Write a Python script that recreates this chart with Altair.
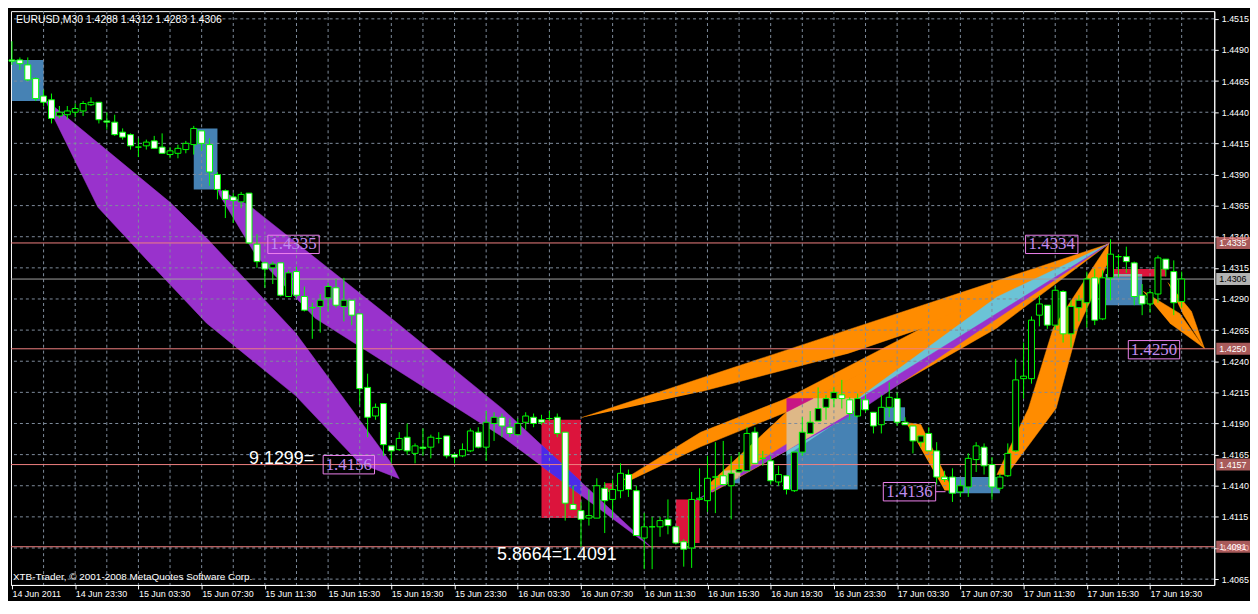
import altair as alt
import pandas as pd

W, H = 1212, 578

# ---------------- candle data: EURUSD M30, bar 0 = 14 Jun 2011 19:30 ----------------
opens = [1.4482,1.4482,1.4478,1.4467,1.4453,1.4450,1.4437,1.4438,1.4440,1.4441,
1.4446,1.4448,1.4433,1.4432,1.4424,1.4422,1.4412,1.4413,1.4417,1.4412,
1.4406,1.4407,1.4410,1.4414,1.4425,1.4414,1.4390,1.4377,1.4372,1.4368,
1.4375,1.4334,1.4319,1.4315,1.4319,1.4292,1.4312,1.4292,1.4283,1.4284,
1.4291,1.4299,1.4284,1.4289,1.4278,1.4219,1.4196,1.4206,1.4172,1.4169,
1.4179,1.4166,1.4171,1.4171,1.4178,1.4180,1.4165,1.4164,1.4168,1.4183,
1.4171,1.4190,1.4195,1.4187,1.4181,1.4191,1.4195,1.4193,1.4194,1.4195,
1.4183,1.4125,1.4120,1.4114,1.4114,1.4138,1.4129,1.4136,1.4149,1.4136,
1.4098,1.4107,1.4107,1.4113,1.4107,1.4095,1.4090,1.4129,1.4128,1.4147,
1.4148,1.4140,1.4151,1.4152,1.4183,1.4162,1.4160,1.4143,1.4148,1.4136,
1.4167,1.4182,1.4192,1.4203,1.4210,1.4213,1.4209,1.4196,1.4209,1.4199,
1.4189,1.4203,1.4210,1.4191,1.4188,1.4175,1.4182,1.4168,1.4147,1.4147,
1.4135,1.4139,1.4161,1.4171,1.4157,1.4138,1.4148,1.4168,1.4226,1.4226,
1.4277,1.4285,1.4269,1.4296,1.4262,1.4283,1.4287,1.4307,1.4274,1.4307,
1.4324,1.4324,1.4319,1.4293,1.4286,1.4294,1.4322,1.4312,1.4288]
highs = [1.4497,1.4484,1.4484,1.4468,1.4458,1.4455,1.4445,1.4445,1.4447,1.4449,
1.4452,1.4448,1.4440,1.4438,1.4427,1.4423,1.4419,1.4418,1.4421,1.4423,
1.4412,1.4414,1.4417,1.4429,1.4425,1.4419,1.4392,1.4378,1.4375,1.4376,
1.4375,1.4342,1.4320,1.4320,1.4319,1.4313,1.4316,1.4300,1.4287,1.4294,
1.4303,1.4306,1.4307,1.4289,1.4278,1.4230,1.4206,1.4206,1.4172,1.4183,
1.4190,1.4174,1.4186,1.4181,1.4183,1.4180,1.4166,1.4174,1.4186,1.4187,
1.4200,1.4199,1.4198,1.4194,1.4194,1.4199,1.4198,1.4197,1.4200,1.4198,
1.4183,1.4140,1.4127,1.4137,1.4146,1.4143,1.4145,1.4158,1.4153,1.4140,
1.4118,1.4115,1.4115,1.4129,1.4107,1.4097,1.4135,1.4154,1.4164,1.4175,
1.4176,1.4164,1.4167,1.4187,1.4187,1.4168,1.4164,1.4156,1.4148,1.4167,
1.4195,1.4200,1.4219,1.4213,1.4219,1.4225,1.4211,1.4214,1.4213,1.4199,
1.4213,1.4223,1.4215,1.4195,1.4188,1.4180,1.4187,1.4175,1.4152,1.4154,
1.4145,1.4166,1.4175,1.4174,1.4163,1.4150,1.4174,1.4242,1.4255,1.4276,
1.4293,1.4285,1.4300,1.4297,1.4289,1.4293,1.4312,1.4314,1.4313,1.4338,
1.4326,1.4332,1.4320,1.4302,1.4298,1.4325,1.4322,1.4321,1.4312]
lows = [1.4478,1.4474,1.4465,1.4449,1.4445,1.4431,1.4435,1.4434,1.4436,1.4437,
1.4445,1.4431,1.4426,1.4421,1.4418,1.4410,1.4404,1.4410,1.4411,1.4407,
1.4403,1.4403,1.4407,1.4406,1.4409,1.4381,1.4370,1.4355,1.4351,1.4363,
1.4334,1.4315,1.4299,1.4302,1.4292,1.4292,1.4291,1.4280,1.4258,1.4263,
1.4280,1.4283,1.4272,1.4269,1.4205,1.4179,1.4193,1.4164,1.4158,1.4168,
1.4165,1.4158,1.4164,1.4162,1.4174,1.4162,1.4158,1.4163,1.4167,1.4170,
1.4160,1.4176,1.4179,1.4179,1.4181,1.4185,1.4187,1.4189,1.4192,1.4179,
1.4112,1.4121,1.4091,1.4108,1.4114,1.4102,1.4114,1.4130,1.4131,1.4100,
1.4073,1.4073,1.4099,1.4101,1.4093,1.4075,1.4074,1.4128,1.4119,1.4118,
1.4141,1.4113,1.4151,1.4152,1.4158,1.4156,1.4141,1.4140,1.4133,1.4135,
1.4164,1.4182,1.4192,1.4193,1.4203,1.4202,1.4193,1.4195,1.4199,1.4182,
1.4182,1.4195,1.4188,1.4189,1.4166,1.4171,1.4168,1.4141,1.4143,1.4127,
1.4131,1.4131,1.4151,1.4149,1.4129,1.4136,1.4147,1.4167,1.4210,1.4222,
1.4268,1.4266,1.4265,1.4255,1.4251,1.4272,1.4267,1.4269,1.4273,1.4289,
1.4307,1.4311,1.4285,1.4277,1.4279,1.4287,1.4308,1.4277,1.4283]
closes = [1.4481,1.4479,1.4466,1.4451,1.4448,1.4435,1.4440,1.4441,1.4443,1.4447,
1.4448,1.4434,1.4432,1.4422,1.4420,1.4413,1.4412,1.4416,1.4411,1.4407,
1.4409,1.4411,1.4415,1.4427,1.4415,1.4392,1.4378,1.4370,1.4369,1.4374,
1.4335,1.4320,1.4314,1.4318,1.4293,1.4311,1.4293,1.4281,1.4283,1.4289,
1.4300,1.4285,1.4289,1.4277,1.4218,1.4195,1.4203,1.4173,1.4168,1.4178,
1.4168,1.4172,1.4170,1.4179,1.4178,1.4164,1.4163,1.4169,1.4184,1.4171,
1.4191,1.4195,1.4188,1.4182,1.4190,1.4196,1.4190,1.4191,1.4194,1.4182,
1.4126,1.4121,1.4113,1.4116,1.4140,1.4128,1.4137,1.4150,1.4137,1.4100,
1.4107,1.4107,1.4112,1.4108,1.4094,1.4089,1.4129,1.4130,1.4146,1.4147,
1.4141,1.4150,1.4153,1.4182,1.4158,1.4162,1.4144,1.4149,1.4137,1.4167,
1.4183,1.4191,1.4202,1.4210,1.4215,1.4210,1.4198,1.4210,1.4201,1.4188,
1.4203,1.4211,1.4191,1.4189,1.4176,1.4180,1.4168,1.4147,1.4145,1.4134,
1.4140,1.4162,1.4172,1.4156,1.4139,1.4147,1.4166,1.4225,1.4228,1.4273,
1.4286,1.4269,1.4297,1.4262,1.4284,1.4289,1.4306,1.4273,1.4307,1.4326,
1.4324,1.4320,1.4292,1.4286,1.4295,1.4323,1.4314,1.4287,1.4306]

# ---------------- axes ----------------
x_tick_bars = [0, 8, 16, 24, 32, 40, 48, 56, 64, 72, 80, 88, 96, 104, 112, 120, 128, 136, 144]
x_tick_labels = ["14 Jun 2011", "14 Jun 23:30", "15 Jun 03:30", "15 Jun 07:30", "15 Jun 11:30",
                 "15 Jun 15:30", "15 Jun 19:30", "15 Jun 23:30", "16 Jun 03:30", "16 Jun 07:30",
                 "16 Jun 11:30", "16 Jun 15:30", "16 Jun 19:30", "16 Jun 23:30", "17 Jun 03:30",
                 "17 Jun 07:30", "17 Jun 11:30", "17 Jun 15:30", "17 Jun 19:30"]
price_ticks = [1.4065, 1.4090, 1.4115, 1.4140, 1.4165, 1.4190, 1.4215, 1.4240, 1.4265, 1.4290,
               1.4315, 1.4340, 1.4365, 1.4390, 1.4415, 1.4440, 1.4465, 1.4490, 1.4515]
grid_bars = [4, 8, 12, 16, 20, 24, 28, 32, 36, 40, 44, 48, 52, 56, 60, 64, 68, 72, 76, 80, 84, 88,
             92, 96, 100, 104, 108, 112, 116, 120, 124, 128, 132, 136, 140, 144, 148]

# ---------------- levels and price tags ----------------
level_prices = [1.4335, 1.4250, 1.4157, 1.4091]
bid_price = 1.4306
tag_prices = [1.4335, 1.4306, 1.4250, 1.4157, 1.4091]
tag_text = ["1.4335", "1.4306", "1.4250", "1.4157", "1.4091"]
tag_bg = ["#F08080", "#FFFFFF", "#F08080", "#F08080", "#F08080"]
tag_fg = ["#FFFFFF", "#000000", "#FFFFFF", "#FFFFFF", "#FFFFFF"]

# ---------------- rectangles (bar0, bar1, price top, price bottom) ----------------
blue_rects = [(0, 4, 1.4482, 1.4449), (23, 26, 1.4427, 1.4378), (90, 92.1, 1.4153, 1.4142),
              (98, 107, 1.4210, 1.4137), (110, 113, 1.4203, 1.4192), (118.5, 125, 1.4147, 1.4134),
              (138.4, 143, 1.4310, 1.4285)]
red_rects = [(67, 72, 1.4193, 1.4114), (75, 76.1, 1.4142, 1.4135), (84, 87, 1.4129, 1.4094),
             (139.4, 146, 1.4314, 1.4308)]
gray_rects = [(138.4, 143, 1.4310, 1.4308)]

# ---------------- filled triangles / ribbons (bar, price) ----------------
P1 = [(4.0, 1.44514), (20.0, 1.43676), (24.625, 1.43389), (35.875, 1.42628), (48.0, 1.41581),
      (49.0, 1.41457), (44.0, 1.41581), (35.875, 1.42124), (24.625, 1.42706), (17.125, 1.43210),
      (10.875, 1.43637), (4.375, 1.44475)]
P2 = [(26.0, 1.43785), (30.0, 1.43653), (48.0, 1.42745), (62.125, 1.42015), (80.875, 1.40906),
      (62.125, 1.41790), (38.375, 1.42745), (30.875, 1.43249), (26.25, 1.43738)]
P3 = [(85.875, 1.41255), (138.75, 1.43342), (107.375, 1.42008)]
O1 = [(72.0, 1.41946), (138.75, 1.43342), (132.125, 1.43094), (119.625, 1.42760),
      (105.875, 1.42465), (87.125, 1.42155)]
O2 = [(77.375, 1.41449), (87.125, 1.41829), (98.0, 1.42101), (124.625, 1.42978), (138.75, 1.43342),
      (124.625, 1.42853), (98.0, 1.41992), (87.125, 1.41713), (78.375, 1.41449)]
O2b = [(87.75, 1.41387), (98.0, 1.41992), (138.75, 1.43342), (124.625, 1.42667), (107.125, 1.42031),
       (98.0, 1.41682), (88.625, 1.41348)]
O3 = [(124.625, 1.41488), (128.625, 1.42023), (131.75, 1.42667), (137.125, 1.43187), (138.75, 1.43342),
      (138.625, 1.43187), (134.875, 1.42667), (132.125, 1.42023), (125.875, 1.41488)]
O4 = [(113.125, 1.41907), (115.0, 1.41891), (119.0, 1.41364), (118.0, 1.41364)]
O5a = [(143.125, 1.42962), (147.75, 1.42784), (150.875, 1.42504), (146.5, 1.42706)]
O5b = [(146.25, 1.43032), (149.25, 1.42799), (150.875, 1.42504), (148.125, 1.42784)]
CY = [(98.0, 1.41682), (124.625, 1.42916), (138.75, 1.43342), (124.625, 1.42760), (98.0, 1.41643)]
BLUE_OV = [(67.0, 1.41728), (72.0, 1.41433), (72.0, 1.41325), (67.0, 1.41558)]
TAN1 = [(98.0, 1.41992), (101.25, 1.42101), (107.0, 1.42101), (107.0, 1.42023), (98.0, 1.41682)]
TAN2 = [(90.0, 1.41519), (92.125, 1.41526), (92.125, 1.41472), (90.0, 1.41418)]
MAG = [(98.0, 1.42101), (101.375, 1.42101), (98.0, 1.41992)]

# ---------------- annotation boxes ----------------
box_text = ["1.4335", "1.4334", "1.4250", "1.4156", "1.4136"]
box_b0 = [32.375, 128.25, 141.25, 39.375, 110.25]
box_b1 = [38.875, 134.875, 147.75, 45.875, 116.875]
box_top = [1.43412, 1.43412, 1.42566, 1.41643, 1.41426]
box_bot = [1.43265, 1.43265, 1.42419, 1.41495, 1.41278]
note_text = ["9.1299=", "5.8664=1.4091"]
note_bar = [30.0, 61.375]
note_price = [1.41612, 1.40844]
title_text = "EURUSD,M30  1.4288 1.4312 1.4283 1.4306"
copy_text = "XTB-Trader, \u00a9 2001-2008 MetaQuotes Software Corp."

# ---------------- encodings ----------------
xs = alt.Scale(domain=[-0.125, 152.125], nice=False, zero=False)
ys = alt.Scale(domain=[1.40603, 1.45212], nice=False, zero=False)
label_expr = "[" + ",".join("'%s'" % s for s in x_tick_labels) + "][round(datum.value / 8)]"
xaxis = alt.Axis(values=x_tick_bars, labelExpr=label_expr, labelAlign="left", labelBaseline="top",
                 labelFlush=False, labelOverlap=False, tickSize=4, labelPadding=1, orient="bottom")
yaxis = alt.Axis(values=price_ticks, format=".4f", orient="right", labelFlush=False,
                 labelOverlap=False, tickSize=4, labelPadding=3, labelBaseline="middle")


def X(f):
    return alt.X(f + ":Q", scale=xs, axis=xaxis, title=None)


def Y(f):
    return alt.Y(f + ":Q", scale=ys, axis=yaxis, title=None)


def rect_df(rects, color):
    return pd.DataFrame({"b0": [r[0] for r in rects], "b1": [r[1] for r in rects],
                         "p0": [r[2] for r in rects], "p1": [r[3] for r in rects],
                         "col": color})


def poly_layer(polys, color):
    frames = []
    for name, pts in polys.items():
        frames.append(pd.DataFrame({"poly": name, "i": list(range(len(pts))),
                                    "bar": [p[0] for p in pts], "price": [p[1] for p in pts]}))
    df = pd.concat(frames, ignore_index=True)
    return alt.Chart(df).mark_line(fill=color, stroke=color, strokeWidth=0.5).encode(
        x=X("bar"), y=Y("price"), detail="poly:N", order="i:Q")


rects = pd.concat([rect_df(blue_rects, "#4682B4"), rect_df(red_rects, "#DC143C"),
                   rect_df(gray_rects, "#9AA4A8")], ignore_index=True)
rect_layer = alt.Chart(rects).mark_rect().encode(
    x=X("b0"), x2="b1:Q", y=Y("p0"), y2="p1:Q", fill=alt.Fill("col:N", scale=None))

purple = poly_layer({"P1": P1, "P2": P2}, "#9932CC")
orange = poly_layer({"O1": O1, "O2": O2, "O2b": O2b, "O3": O3, "O4": O4, "O5a": O5a, "O5b": O5b}, "#FF8C00")
cyan = poly_layer({"CY": CY}, "#6BC3D6")
purple2 = poly_layer({"P3": P3}, "#9932CC")
blue_ov = poly_layer({"B": BLUE_OV}, "#4B2AE8")
tan = poly_layer({"T1": TAN1, "T2": TAN2}, "#DEB887")
mag = poly_layer({"M": MAG}, "#C71585")

GRID = "#7F8C9C"
hgrid = alt.Chart(pd.DataFrame({"price": price_ticks})).mark_rule(
    color=GRID, strokeDash=[3, 3], strokeWidth=1).encode(y=Y("price"))
vgrid = alt.Chart(pd.DataFrame({"bar": grid_bars})).mark_rule(
    color=GRID, strokeDash=[3, 3], strokeWidth=1).encode(x=X("bar"))

lines_df = pd.DataFrame({"price": level_prices + [bid_price],
                         "col": ["#F08080"] * len(level_prices) + ["#A0A0A0"]})
level_layer = alt.Chart(lines_df).mark_rule(strokeWidth=1).encode(
    y=Y("price"), color=alt.Color("col:N", scale=None))

candles = pd.DataFrame({"bar": list(range(len(opens))), "open": opens, "high": highs,
                        "low": lows, "close": closes})
candles["x0"] = candles["bar"] - 0.375
candles["x1"] = candles["bar"] + 0.375
candles["body"] = ["#FFFFFF" if c < o else "#000000" for o, c in zip(opens, closes)]
wicks = alt.Chart(candles).mark_rule(color="#00FF00", strokeWidth=1).encode(
    x=X("bar"), y=Y("low"), y2="high:Q")
bodies = alt.Chart(candles).mark_rect(stroke="#00FF00", strokeWidth=1).encode(
    x=X("x0"), x2="x1:Q", y=Y("open"), y2="close:Q", fill=alt.Fill("body:N", scale=None))

boxes = pd.DataFrame({"t": box_text, "b0": box_b0, "b1": box_b1, "p0": box_top, "p1": box_bot})
boxes["bc"] = (boxes["b0"] + boxes["b1"]) / 2
boxes["pc"] = (boxes["p0"] + boxes["p1"]) / 2
box_layer = alt.Chart(boxes).mark_rect(fillOpacity=0, stroke="#EE82EE", strokeWidth=1).encode(
    x=X("b0"), x2="b1:Q", y=Y("p0"), y2="p1:Q")
box_text_layer = alt.Chart(boxes).mark_text(
    font="Liberation Serif", fontSize=17, color="#C08CF0", align="center", baseline="middle").encode(
    x=X("bc"), y=Y("pc"), text="t:N")
conn = alt.Chart(pd.DataFrame({"b0": [116.875], "b1": [118.125], "price": [1.41352]})).mark_rule(
    color="#EE82EE").encode(x=X("b0"), x2="b1:Q", y=Y("price"))

notes = pd.DataFrame({"t": note_text, "bar": note_bar, "price": note_price})
note_layer = alt.Chart(notes).mark_text(
    font="Liberation Sans", fontSize=18, color="#FFFFFF", align="left", baseline="middle").encode(
    x=X("bar"), y=Y("price"), text="t:N")

tags = pd.DataFrame({"price": tag_prices, "lbl": tag_text, "bg": tag_bg, "fg": tag_fg})
tag_rect = alt.Chart(tags).mark_tick(orient="horizontal", thickness=12, size=34).encode(
    y=Y("price"), x=alt.value(W + 19), color=alt.Color("bg:N", scale=None))
tag_txt = alt.Chart(tags).mark_text(
    font="Liberation Sans", fontSize=9, align="left", baseline="middle").encode(
    y=Y("price"), x=alt.value(W + 5), text="lbl:N", color=alt.Color("fg:N", scale=None))

title_layer = alt.Chart(pd.DataFrame({"t": [title_text]})).mark_text(
    font="Liberation Sans", fontSize=10.5, color="#FFFFFF", align="left", baseline="middle").encode(
    x=alt.value(5), y=alt.value(9), text="t:N")
copy_layer = alt.Chart(pd.DataFrame({"t": [copy_text]})).mark_text(
    font="Liberation Sans", fontSize=10, color="#FFFFFF", align="left", baseline="middle").encode(
    x=alt.value(2), y=alt.value(H - 8), text="t:N")

chart = alt.layer(
    rect_layer, purple, orange, cyan, purple2, blue_ov, tan, mag,
    hgrid, vgrid, level_layer, wicks, bodies,
    box_layer, box_text_layer, conn, note_layer, tag_rect, tag_txt, title_layer, copy_layer
).properties(
    width=W, height=H, padding=0, background="black"
).configure_view(
    stroke="#FFFFFF", strokeWidth=1
).configure_axis(
    labelFont="Liberation Sans", labelFontSize=9, labelColor="#FFFFFF",
    tickColor="#FFFFFF", domainColor="#FFFFFF", grid=False
)

chart.save("out.html", embed_options={"renderer": "svg", "actions": False})
